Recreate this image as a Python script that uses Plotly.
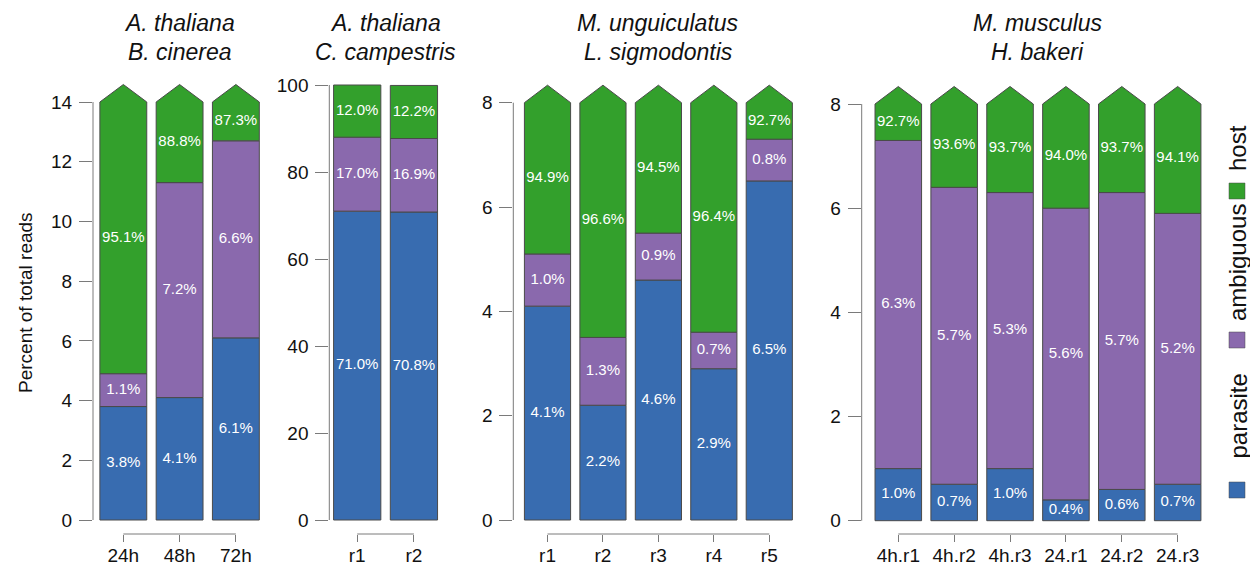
import plotly.graph_objects as go

W, H = 1250, 565

# ---- data -------------------------------------------------------------
title_line1 = ["A. thaliana", "A. thaliana", "M. unguiculatus", "M. musculus"]
title_line2 = ["B. cinerea", "C. campestris", "L. sigmodontis", "H. bakeri"]

samples_bc = ["24h", "48h", "72h"]
parasite_bc = [3.8, 4.1, 6.1]
ambiguous_bc = [1.1, 7.2, 6.6]
host_bc = [95.1, 88.8, 87.3]

samples_cc = ["r1", "r2"]
parasite_cc = [71.0, 70.8]
ambiguous_cc = [17.0, 16.9]
host_cc = [12.0, 12.2]

samples_ls = ["r1", "r2", "r3", "r4", "r5"]
parasite_ls = [4.1, 2.2, 4.6, 2.9, 6.5]
ambiguous_ls = [1.0, 1.3, 0.9, 0.7, 0.8]
host_ls = [94.9, 96.6, 94.5, 96.4, 92.7]

samples_hb = ["4h.r1", "4h.r2", "4h.r3", "24.r1", "24.r2", "24.r3"]
parasite_hb = [1.0, 0.7, 1.0, 0.4, 0.6, 0.7]
ambiguous_hb = [6.3, 5.7, 5.3, 5.6, 5.7, 5.2]
host_hb = [92.7, 93.6, 93.7, 94.0, 93.7, 94.1]

y_max = [14, 100, 8, 8]
y_step = [2, 20, 2, 2]
truncated = [True, False, True, True]

legend_labels = ["host", "ambiguous", "parasite"]

# ---- styling ----------------------------------------------------------
FONT = "Liberation Sans, Arial, Helvetica, sans-serif"
C_PARASITE = "#386cb0"
C_AMBIG = "#8a69ad"
C_HOST = "#33a02c"
EDGE = "#4a4a4a"
AXIS = "#7a7a7a"
BAR_W = 0.833
ARROW_PX = 17.5

PLOT_TOP_PX = 80
PLOT_BOTTOM_PX = 534

# panel frames in pixels: axis line x, right edge x, left padding (units),
# pixel row of zero, pixel row of the axis maximum
frames = [
    dict(left=93.0, right=264.0, xlo=-0.539, zero=520.0, top=102.0),
    dict(left=329.3, right=442.3, xlo=-0.492, zero=520.0, top=85.0),
    dict(left=513.3, right=797.0, xlo=-0.617, zero=520.0, top=102.7),
    dict(left=861.7, right=1205.6, xlo=-0.655, zero=520.7, top=104.0),
]

panels = [
    (samples_bc, parasite_bc, ambiguous_bc, host_bc),
    (samples_cc, parasite_cc, ambiguous_cc, host_cc),
    (samples_ls, parasite_ls, ambiguous_ls, host_ls),
    (samples_hb, parasite_hb, ambiguous_hb, host_hb),
]


def px_x(px):
    return px / W


def px_y(py):
    return 1 - py / H


def pct(v):
    return f"{v:.1f}%"


fig = go.Figure()
layout = dict(
    width=W, height=H,
    margin=dict(l=0, r=0, t=0, b=0, pad=0, autoexpand=False),
    paper_bgcolor="white", plot_bgcolor="white",
    showlegend=False, barmode="overlay",
    font=dict(family=FONT, color="#111111"),
)
shapes = []
annotations = []

for k, (samples, parasite, ambiguous, host) in enumerate(panels):
    fr = frames[k]
    ymax = y_max[k]
    n = len(samples)
    xs = list(range(n))
    scale = (fr["zero"] - fr["top"]) / ymax
    ylo = -(PLOT_BOTTOM_PX - fr["zero"]) / scale
    yhi = (fr["zero"] - PLOT_TOP_PX) / scale
    arrow = ARROW_PX / scale

    xa = "x" if k == 0 else f"x{k + 1}"
    ya = "y" if k == 0 else f"y{k + 1}"
    xkey = "xaxis" if k == 0 else f"xaxis{k + 1}"
    ykey = "yaxis" if k == 0 else f"yaxis{k + 1}"

    layout[xkey] = dict(
        domain=[px_x(fr["left"]), px_x(fr["right"])],
        range=[fr["xlo"], n - 0.5],
        anchor=ya, automargin=False,
        tickmode="array", tickvals=xs, ticktext=samples,
        ticks="outside", ticklen=7, tickcolor=AXIS, tickwidth=1,
        showline=False, showgrid=False, zeroline=False,
        tickfont=dict(size=19, color="#111111", family=FONT),
        ticklabelstandoff=-3, fixedrange=True,
    )
    layout[ykey] = dict(
        domain=[px_y(PLOT_BOTTOM_PX), px_y(PLOT_TOP_PX)],
        range=[ylo, yhi],
        anchor=xa, automargin=False,
        tickmode="array", tickvals=list(range(0, ymax + 1, y_step[k])),
        ticks="outside", ticklen=13, tickcolor=AXIS, tickwidth=1,
        showline=False, showgrid=False, zeroline=False,
        tickfont=dict(size=19, color="#111111", family=FONT),
        ticklabelstandoff=3, fixedrange=True,
    )

    # parasite and ambiguous segments
    fig.add_trace(go.Bar(
        x=xs, y=parasite, base=[0] * n, width=BAR_W,
        marker=dict(color=C_PARASITE, line=dict(color=EDGE, width=1)),
        xaxis=xa, yaxis=ya, hoverinfo="skip",
    ))
    fig.add_trace(go.Bar(
        x=xs, y=ambiguous, base=parasite, width=BAR_W,
        marker=dict(color=C_AMBIG, line=dict(color=EDGE, width=1)),
        xaxis=xa, yaxis=ya, hoverinfo="skip",
    ))

    # host segments: cut at the axis maximum and capped with an arrow head
    label_x, label_y, label_t = [], [], []
    for i in xs:
        b = parasite[i] + ambiguous[i]
        left, right = i - BAR_W / 2, i + BAR_W / 2
        if truncated[k]:
            t = ymax
            px = [left, left, i, right, right, left]
            py = [b, t, t + arrow, t, b, b]
        else:
            t = b + host[i]
            px = [left, left, right, right, left]
            py = [b, t, t, b, b]
        fig.add_trace(go.Scatter(
            x=px, y=py, mode="lines", fill="toself", fillcolor=C_HOST,
            line=dict(color=EDGE, width=1), xaxis=xa, yaxis=ya,
            hoverinfo="skip",
        ))
        label_x += [i, i, i]
        label_y += [parasite[i] / 2, parasite[i] + ambiguous[i] / 2, (b + t) / 2]
        label_t += [pct(parasite[i]), pct(ambiguous[i]), pct(host[i])]

    fig.add_trace(go.Scatter(
        x=label_x, y=label_y, text=label_t, mode="text",
        textfont=dict(color="white", size=15, family=FONT),
        xaxis=xa, yaxis=ya, hoverinfo="skip",
    ))

    # y axis line spanning only the tick range
    shapes.append(dict(
        type="line", xref=f"{xa} domain", yref=ya,
        x0=0, x1=0, y0=0, y1=ymax, line=dict(color=AXIS, width=1),
    ))
    # x axis bracket between the first and last tick
    shapes.append(dict(
        type="line", xref=xa, yref="paper",
        x0=0, x1=n - 1, y0=px_y(PLOT_BOTTOM_PX), y1=px_y(PLOT_BOTTOM_PX),
        line=dict(color=AXIS, width=1),
    ))

    # two-line italic panel title
    for line_txt, yrow in ((title_line1[k], 23), (title_line2[k], 52)):
        annotations.append(dict(
            text=f"<i>{line_txt}</i>", xref=xa, yref="paper",
            x=(n - 1) / 2, y=px_y(yrow), showarrow=False,
            xanchor="center", yanchor="middle",
            font=dict(size=23, color="#111111", family=FONT),
        ))

# y axis title
annotations.append(dict(
    text="Percent of total reads", xref="paper", yref="paper",
    x=px_x(25), y=px_y(303), textangle=-90, showarrow=False,
    xanchor="center", yanchor="middle",
    font=dict(size=19, color="#111111", family=FONT),
))

# legend: coloured squares with rotated labels above them
legend_colors = [C_HOST, C_AMBIG, C_PARASITE]
legend_square_top = [183, 332, 482]
legend_text_mid = [148.5, 262.5, 416]
for lab, col, sq, tm in zip(legend_labels, legend_colors, legend_square_top, legend_text_mid):
    shapes.append(dict(
        type="rect", xref="paper", yref="paper",
        x0=px_x(1229), x1=px_x(1245), y0=px_y(sq + 16), y1=px_y(sq),
        fillcolor=col, line=dict(color=EDGE, width=0.5),
    ))
    annotations.append(dict(
        text=lab, xref="paper", yref="paper",
        x=px_x(1237.5), y=px_y(tm), textangle=-90, showarrow=False,
        xanchor="center", yanchor="middle",
        font=dict(size=24, color="#111111", family=FONT),
    ))

layout["shapes"] = shapes
layout["annotations"] = annotations
fig.update_layout(**layout)

fig.write_html("out.html")
